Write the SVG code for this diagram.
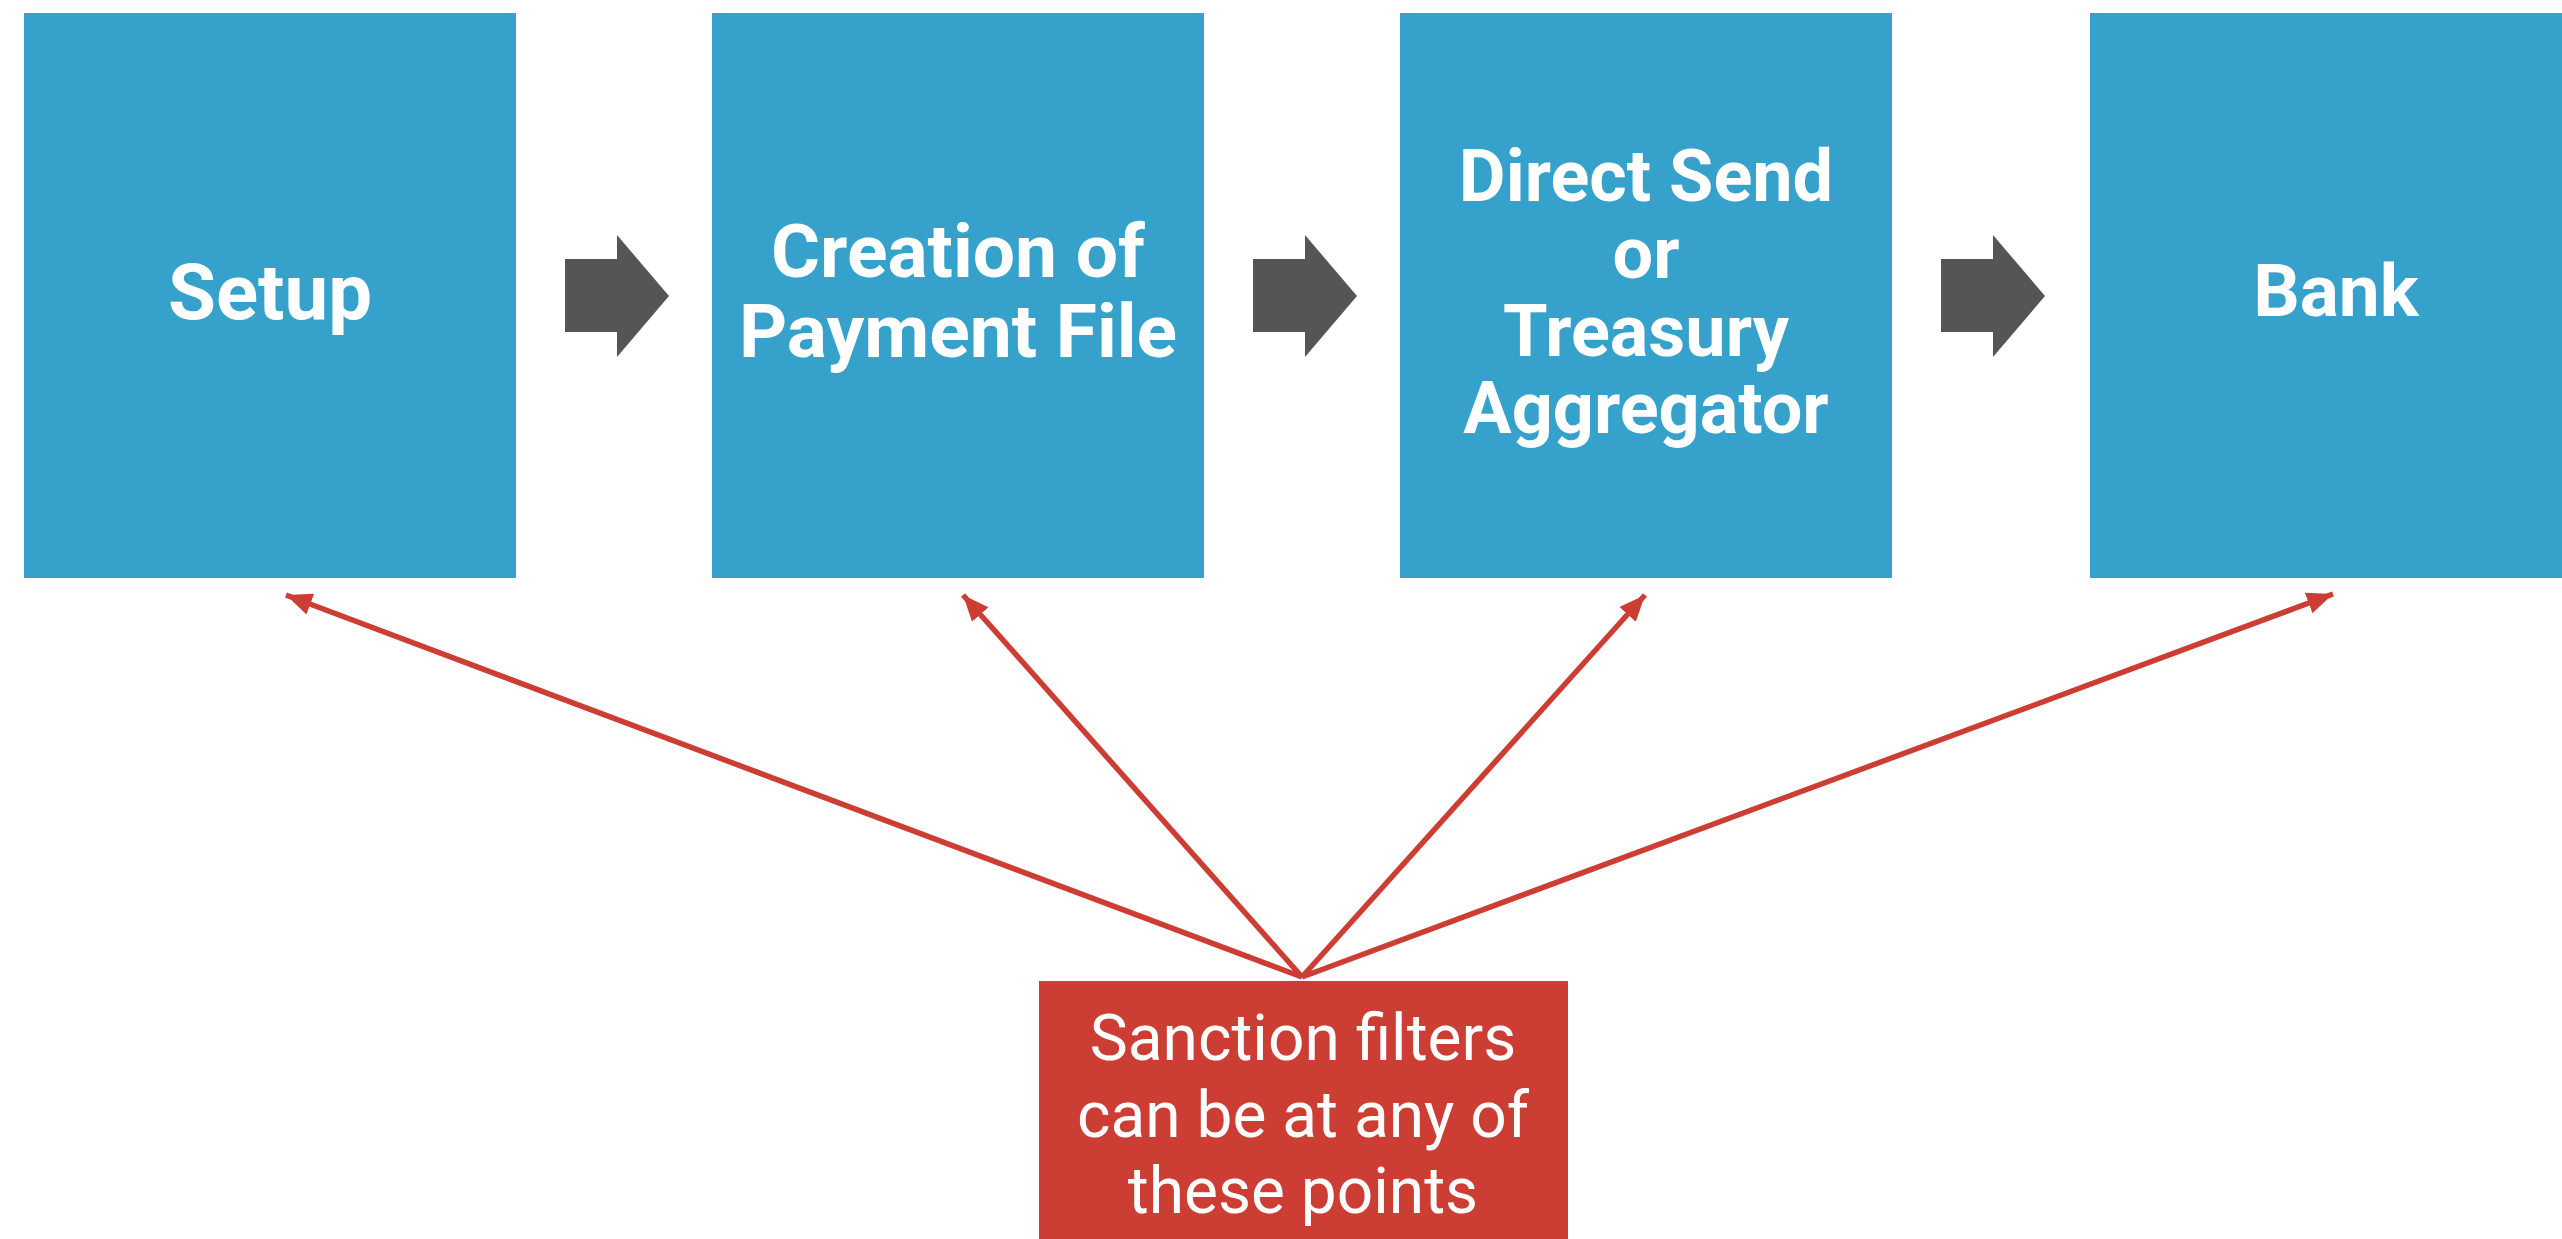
<svg xmlns="http://www.w3.org/2000/svg" width="2562" height="1239" viewBox="0 0 2562 1239">
<style>
.box{fill:#36A2CB}
.lbl{font-family:Roboto,"Liberation Sans",sans-serif;font-weight:bold;font-size:75px;fill:#fff;text-anchor:middle}
.note{font-family:Roboto,"Liberation Sans",sans-serif;font-size:64px;fill:#fff;text-anchor:middle}
.flow{fill:#555555}
.ptr{stroke:#CC3E33;stroke-width:5.5;fill:none;marker-end:url(#ah)}
</style>
<defs>
<marker id="ah" markerUnits="userSpaceOnUse" markerWidth="30" markerHeight="30" viewBox="0 0 30 30" refX="26" refY="15" orient="auto">
<path d="M0,4 L26,15 L0,26 Z" fill="#CC3E33"/>
</marker>
<path id="fa" d="M0,0 H52 V-24 L104,37 L52,98 V73 H0 Z"/>
</defs>
<rect width="2562" height="1239" fill="#fff"/>
<g id="setup"><rect class="box" x="24" y="13" width="492" height="565"/><text class="lbl" x="270" y="319" style="font-size:78px">Setup</text></g>
<g id="creation"><rect class="box" x="712" y="13" width="492" height="565"/><text class="lbl" x="958" y="277">Creation of</text><text class="lbl" x="958" y="357">Payment File</text></g>
<g id="direct"><rect class="box" x="1400" y="13" width="492" height="565"/><text class="lbl" style="font-size:72px" x="1646" y="201">Direct Send</text><text class="lbl" style="font-size:72px" x="1646" y="278">or</text><text class="lbl" style="font-size:72px" x="1646" y="356">Treasury</text><text class="lbl" style="font-size:72px" x="1646" y="433">Aggregator</text></g>
<g id="bank"><rect class="box" x="2090" y="13" width="492" height="565"/><text class="lbl" x="2336" y="316" style="font-size:73px">Bank</text></g>
<g id="note"><rect x="1039" y="981" width="529" height="258" fill="#CC3E33"/><text class="note" x="1303" y="1060">Sanction filters</text><text class="note" x="1303" y="1137">can be at any of</text><text class="note" x="1303" y="1213">these points</text></g>
<g id="connectors">
<use href="#fa" class="flow" x="565" y="259"/>
<use href="#fa" class="flow" x="1253" y="259"/>
<use href="#fa" class="flow" x="1941" y="259"/>
<line class="ptr" x1="1302" y1="977" x2="286" y2="595"/>
<line class="ptr" x1="1302" y1="977" x2="963" y2="595"/>
<line class="ptr" x1="1302" y1="977" x2="1645" y2="595"/>
<line class="ptr" x1="1302" y1="977" x2="2333" y2="594"/>
</g>
</svg>
